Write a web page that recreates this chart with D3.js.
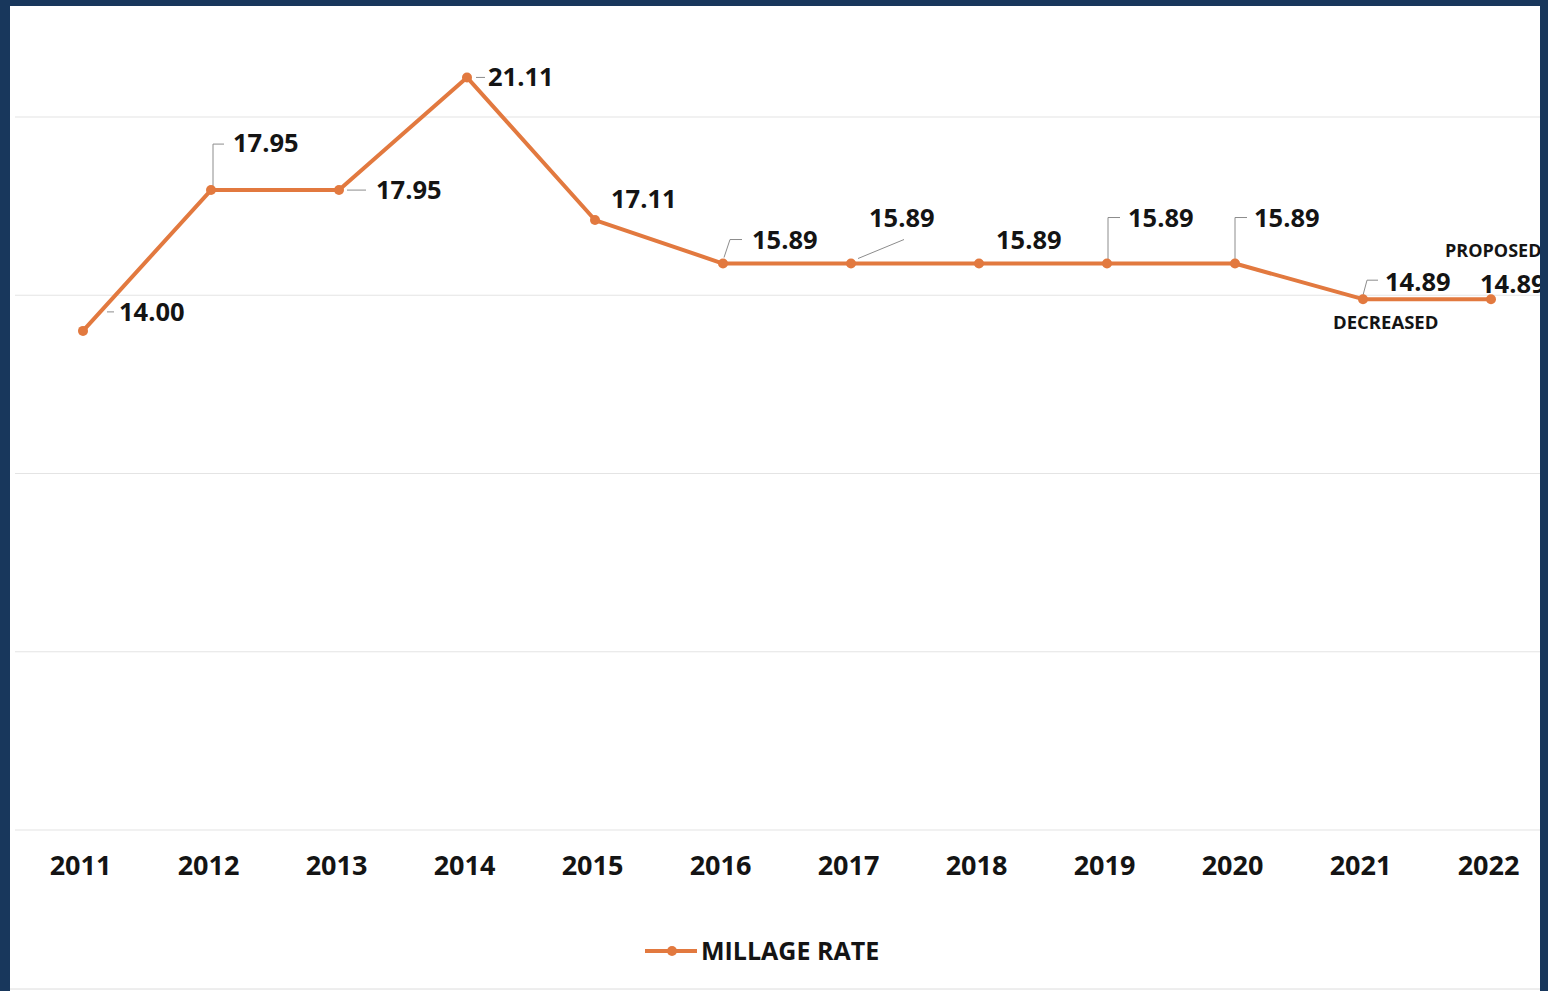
<!DOCTYPE html>
<meta charset="utf-8">
<script src="https://d3js.org/d3.v7.min.js"></script>
<style>
  body { margin: 0; background: #18375c; }
  text { font-family: "Open Sans", sans-serif; font-weight: 700; fill: #141414; }
</style>
<div id="my_dataviz"></div>
<script>

// data
var years = ["2011", "2012", "2013", "2014", "2015", "2016", "2017", "2018", "2019", "2020", "2021", "2022"];
var millage = [14.00, 17.95, 17.95, 21.11, 17.11, 15.89, 15.89, 15.89, 15.89, 15.89, 14.89, 14.89];
var gridValues = [0, 5, 10, 15, 20];
var seriesName = "MILLAGE RATE";

// where each value label sits relative to its point, plus its leader line (if any)
var labelOffsets = [
  {dx: 36, dy: -19, leader: [[24, -19], [31, -19]]},
  {dx: 22, dy: -47, leader: [[2, -3], [2, -46], [13, -46]]},
  {dx: 37, dy: 0, leader: [[8, 0], [27, 0]]},
  {dx: 21, dy: 0, leader: [[9, 0], [18, 0]]},
  {dx: 16, dy: -21, leader: null},
  {dx: 29, dy: -23, leader: [[1, -6], [7, -24], [19, -24]]},
  {dx: 18, dy: -45, leader: [[7, -5], [53, -24]]},
  {dx: 17, dy: -23, leader: null},
  {dx: 21, dy: -45, leader: [[1, -4], [1, -46], [13, -46]]},
  {dx: 19, dy: -45, leader: [[0, -4], [0, -46], [12, -46]]},
  {dx: 22, dy: -17, leader: [[0, -4], [4, -19], [15, -19]]},
  {dx: -11, dy: -15, leader: null}
];

var W = 1548, H = 991;
var lineColor = "#e2793f";

var svg = d3.select("#my_dataviz")
  .append("svg")
    .attr("width", W)
    .attr("height", H);

// navy frame + white panel
svg.append("rect").attr("width", W).attr("height", H).attr("fill", "#18375c");
svg.append("rect").attr("x", 10).attr("y", 6).attr("width", 1530).attr("height", H - 6).attr("fill", "#ffffff");

svg.append("clipPath").attr("id", "panel")
  .append("rect").attr("x", 10).attr("y", 6).attr("width", 1530).attr("height", H - 6);

var g = svg.append("g").attr("clip-path", "url(#panel)");

var x = d3.scalePoint()
  .domain(years)
  .range([83, 1491]);

var y = d3.scaleLinear()
  .domain([0, 20])
  .range([830, 117]);

// gridlines
g.selectAll(".grid")
  .data(gridValues)
  .enter()
  .append("line")
    .attr("x1", 15)
    .attr("x2", 1540)
    .attr("y1", function(d) { return y(d); })
    .attr("y2", function(d) { return y(d); })
    .attr("stroke", "#e4e4e4")
    .attr("stroke-width", 1.2);

// x axis labels
var xAxis = g.append("g")
  .attr("transform", "translate(-3," + 866 + ")")
  .call(d3.axisBottom(x).tickSize(0).tickPadding(0));
xAxis.select(".domain").remove();
xAxis.selectAll("text")
  .attr("dy", "0.35em")
  .attr("y", 0)
  .style("font-family", "'Open Sans', sans-serif")
  .style("font-weight", "700")
  .style("font-size", "27px")
  .attr("fill", "#141414");

var pts = years.map(function(d, i) { return {year: d, value: millage[i], off: labelOffsets[i]}; });

// leader lines
g.selectAll(".leader")
  .data(pts.filter(function(d) { return d.off.leader; }))
  .enter()
  .append("path")
    .attr("fill", "none")
    .attr("stroke", "#8c8c8c")
    .attr("stroke-width", 1)
    .attr("d", function(d) {
      var px = x(d.year), py = y(d.value);
      return d3.line()(d.off.leader.map(function(p) { return [px + p[0], py + p[1]]; }));
    });

// the line
g.append("path")
  .datum(pts)
  .attr("fill", "none")
  .attr("stroke", lineColor)
  .attr("stroke-width", 4)
  .attr("stroke-linejoin", "round")
  .attr("d", d3.line()
    .x(function(d) { return x(d.year); })
    .y(function(d) { return y(d.value); }));

g.selectAll(".dot")
  .data(pts)
  .enter()
  .append("circle")
    .attr("cx", function(d) { return x(d.year); })
    .attr("cy", function(d) { return y(d.value); })
    .attr("r", 5)
    .attr("fill", lineColor);

// value labels
g.selectAll(".val")
  .data(pts)
  .enter()
  .append("text")
    .attr("x", function(d) { return x(d.year) + d.off.dx; })
    .attr("y", function(d) { return y(d.value) + d.off.dy; })
    .attr("dy", "0.35em")
    .style("font-size", "25.5px")
    .text(function(d) { return d.value.toFixed(2); });

// annotations
g.append("text").attr("x", 1445).attr("y", 251).attr("dy", "0.35em")
  .style("font-size", "18px").text("PROPOSED");
g.append("text").attr("x", 1333).attr("y", 323).attr("dy", "0.35em")
  .style("font-size", "18.5px").text("DECREASED");

// legend
var legend = g.append("g").attr("transform", "translate(645,951)");
legend.append("line").attr("x1", 0).attr("x2", 52).attr("y1", 0).attr("y2", 0)
  .attr("stroke", lineColor).attr("stroke-width", 4);
legend.append("circle").attr("cx", 27).attr("cy", 0).attr("r", 5).attr("fill", lineColor);
legend.append("text").attr("x", 56).attr("y", 0).attr("dy", "0.35em")
  .style("font-size", "25px").text(seriesName);

// faint bottom edge
svg.append("line").attr("x1", 10).attr("x2", 1540).attr("y1", 989).attr("y2", 989)
  .attr("stroke", "#dcdcdc").attr("stroke-width", 1);

</script>
